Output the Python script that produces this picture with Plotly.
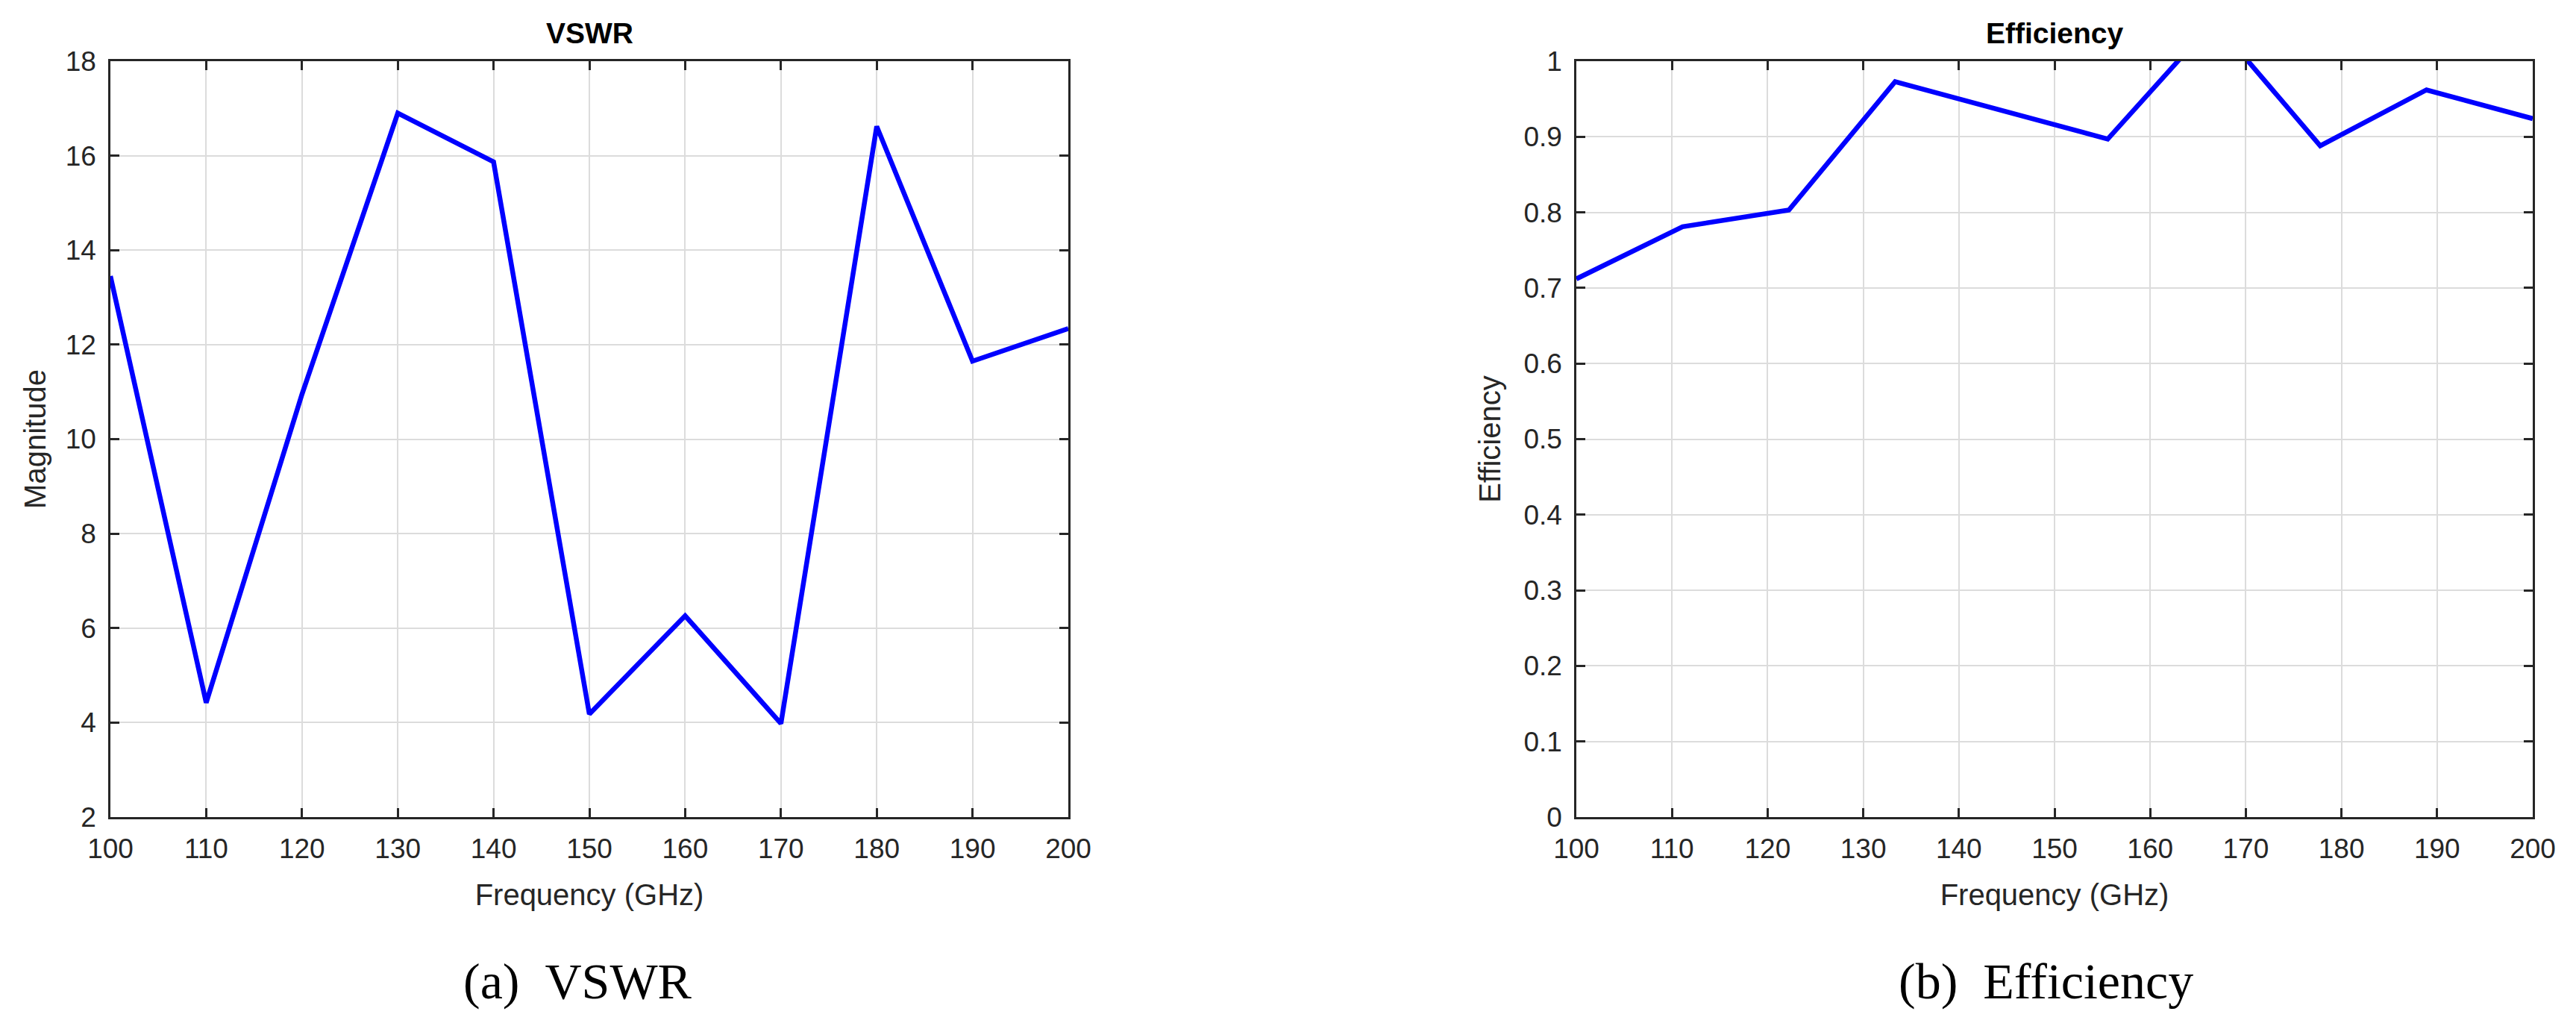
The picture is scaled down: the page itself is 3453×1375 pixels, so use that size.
import plotly.graph_objects as go
from plotly.subplots import make_subplots

# VSWR data
freq_vswr = [100, 110, 120, 130, 140, 150, 160, 170, 180, 190, 200]
vswr = [13.45, 4.42, 10.95, 16.9, 15.87, 4.18, 6.26, 3.98, 16.62, 11.65, 12.34]

# Efficiency data
freq_eff = [100, 111.11, 122.22, 133.33, 144.44, 155.56, 166.67, 177.78, 188.89, 200]
efficiency = [0.712, 0.781, 0.803, 0.973, 0.935, 0.897, 1.053, 0.888, 0.962, 0.924]

W, H = 3453, 1375
SANS = "Liberation Sans, Arial, sans-serif"
SERIF = "Liberation Serif, Times New Roman, serif"
INK = "#262626"

fig = make_subplots(rows=1, cols=2)

fig.add_trace(go.Scatter(x=freq_vswr, y=vswr, mode="lines",
                         line=dict(color="#0000FF", width=6.5), showlegend=False),
              row=1, col=1)
fig.add_trace(go.Scatter(x=freq_eff, y=efficiency, mode="lines",
                         line=dict(color="#0000FF", width=6.5), showlegend=False),
              row=1, col=2)

# pixel based domains (figure has no margins)
y_dom = [1 - 1095 / H, 1 - 82 / H]
fig.update_layout(
    width=W, height=H,
    margin=dict(l=0, r=0, t=0, b=0, autoexpand=False),
    paper_bgcolor="white", plot_bgcolor="white",
    font=dict(family=SANS, color=INK),
    xaxis=dict(domain=[148 / W, 1432 / W]),
    xaxis2=dict(domain=[2113 / W, 3395 / W]),
    yaxis=dict(domain=y_dom),
    yaxis2=dict(domain=y_dom),
)

axis_style = dict(
    automargin=False,
    showline=True, linecolor=INK, linewidth=2.5, mirror="ticks",
    ticks="inside", ticklen=12, tickwidth=2.5, tickcolor=INK,
    showgrid=True, gridcolor="#dcdcdc", gridwidth=2,
    zeroline=False, tickfont=dict(size=37, color=INK, family=SANS),
)

fig.update_xaxes(axis_style, range=[100, 200], dtick=10, tick0=100,
                 ticklabelstandoff=8,
                 title=dict(text="Frequency (GHz)", font=dict(size=40, color=INK), standoff=28))
fig.update_yaxes(axis_style, ticklabelstandoff=9)
fig.update_yaxes(range=[2, 18], dtick=2, tick0=2,
                 title=dict(text="Magnitude", font=dict(size=40, color=INK), standoff=14),
                 row=1, col=1)
fig.update_yaxes(range=[0, 1], dtick=0.1, tick0=0,
                 title=dict(text="Efficiency", font=dict(size=40, color=INK), standoff=19),
                 row=1, col=2)

# panel titles
for cx, txt in [((148 + 1432) / 2, "VSWR"), ((2113 + 3395) / 2, "Efficiency")]:
    fig.add_annotation(x=cx / W, y=1 - 45 / H, xref="paper", yref="paper",
                       text="<b>%s</b>" % txt, showarrow=False,
                       font=dict(size=39, color="black", family=SANS),
                       xanchor="center", yanchor="middle")

# sub-captions
for cx, txt in [(774, "(a)\u00a0\u00a0VSWR"), (2742, "(b)\u00a0\u00a0Efficiency")]:
    fig.add_annotation(x=cx / W, y=1 - 1315 / H, xref="paper", yref="paper",
                       text=txt, showarrow=False,
                       font=dict(size=68, color="black", family=SERIF),
                       xanchor="center", yanchor="middle")

fig.write_html("out.html", config={"displayModeBar": False},
               post_script="document.body.style.margin='0';")
